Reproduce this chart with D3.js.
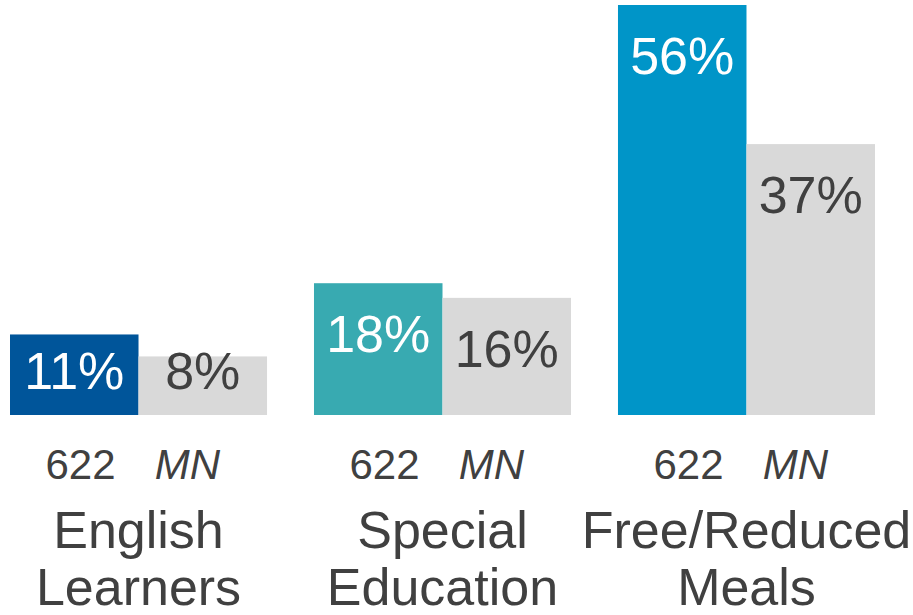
<!DOCTYPE html>
<html>
<head>
<meta charset="utf-8">
<script src="https://cdn.jsdelivr.net/npm/d3@7"></script>
<style>
  html, body { margin: 0; padding: 0; background: #fff; }
  svg { display: block; font-family: "Liberation Sans", Arial, sans-serif; }
</style>
</head>
<body>
<svg id="chart" width="913" height="615"></svg>
<script>
// ---- data ----
const categories = ["English Learners", "Special Education", "Free/Reduced Meals"];
const categoryLines = [["English", "Learners"], ["Special", "Education"], ["Free/Reduced", "Meals"]];
const seriesNames = ["622", "MN"];
const values622 = [11, 18, 56];
const valuesMN = [8, 16, 37];
const colors622 = ["#00559a", "#38aab1", "#0095c8"];
const colorMN = "#d9d9d9";

// ---- layout ----
const svg = d3.select("#chart");
const baseY = 415;
const x0 = d3.scaleBand().domain(categories).range([10, 875]).paddingInner(0.1545).paddingOuter(0);
const x1 = d3.scaleBand().domain(seriesNames).range([0, x0.bandwidth()]).padding(0);
const y = d3.scaleLinear().domain([0, 56]).range([baseY, 5]);

const rows = [];
categories.forEach((c, i) => {
  rows.push({ cat: c, i, series: "622", v: values622[i], fill: colors622[i], text: "#ffffff" });
  rows.push({ cat: c, i, series: "MN", v: valuesMN[i], fill: colorMN, text: "#404040" });
});

const g = svg.append("g");
g.selectAll("rect.bar").data(rows).join("rect")
  .attr("class", "bar")
  .attr("x", d => x0(d.cat) + x1(d.series))
  .attr("y", d => y(d.v))
  .attr("width", x1.bandwidth())
  .attr("height", d => baseY - y(d.v))
  .attr("fill", d => d.fill);

g.selectAll("text.val").data(rows).join("text")
  .attr("class", "val")
  .attr("x", d => x0(d.cat) + x1(d.series) + x1.bandwidth() / 2)
  .attr("y", d => Math.min(y(d.v) + 69, baseY - 26))
  .attr("text-anchor", "middle")
  .attr("font-size", 52)
  .attr("fill", d => d.text)
  .text(d => d.v + "%");

// series sub-labels
const subOffset = { "622": -58, "MN": 49 };
categories.forEach((c, i) => {
  const cx = x0(c) + x0.bandwidth() / 2;
  seriesNames.forEach(s => {
    g.append("text")
      .attr("x", cx + subOffset[s])
      .attr("y", 479)
      .attr("text-anchor", "middle")
      .attr("font-size", 42)
      .attr("font-style", s === "MN" ? "italic" : "normal")
      .attr("fill", "#404040")
      .text(s);
  });
  const t = g.append("text")
    .attr("x", cx)
    .attr("y", 548)
    .attr("text-anchor", "middle")
    .attr("font-size", 52)
    .attr("fill", "#404040");
  categoryLines[i].forEach((line, k) => {
    t.append("tspan").attr("x", cx).attr("y", 548 + k * 57).text(line);
  });
});
</script>
</body>
</html>
